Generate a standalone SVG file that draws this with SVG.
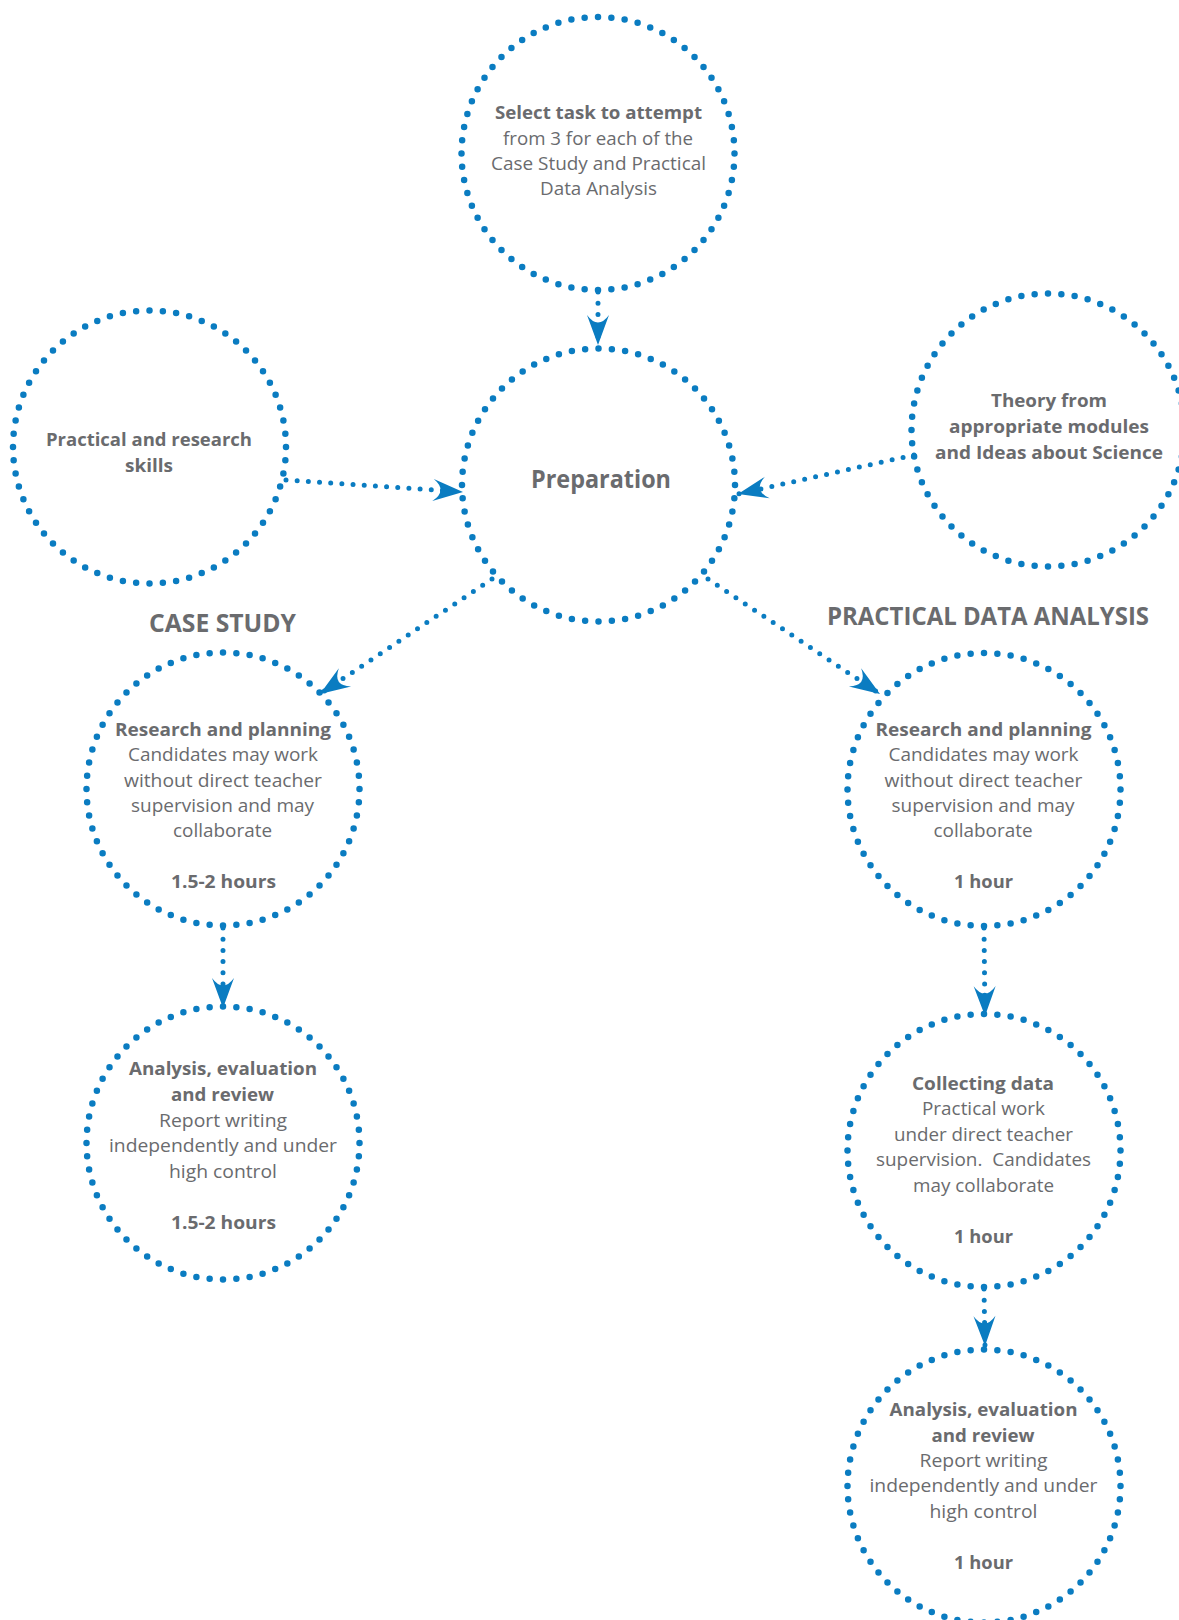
<svg xmlns="http://www.w3.org/2000/svg" width="1179" height="1620" viewBox="0 0 1179 1620">
  <style>
    .ring { fill: none; stroke: #0a7cc1; stroke-width: 6.5; stroke-linecap: round; stroke-dasharray: 0 1; }
    .link { fill: none; stroke: #0a7cc1; stroke-width: 5; stroke-linecap: round; stroke-dasharray: 0 11.2; }
    text { font-family: "Open Sans", "Noto Sans", "Liberation Sans", sans-serif; fill: #6a6b6e; text-anchor: middle; }
    .b { font-weight: 700; font-size: 18.5px; }
    .r { font-weight: 400; font-size: 18.5px; }
    .h { font-weight: 700; font-size: 25px; }
    .pre { white-space: pre; }
  </style>
  <defs>
    <marker id="head" markerUnits="userSpaceOnUse" viewBox="-32 -13 34 26" refX="0" refY="0" markerWidth="34" markerHeight="26" orient="auto">
      <path d="M0,0 L-30,-11 Q-15,0 -30,11 Z" fill="#0a7cc1"/>
    </marker>
  </defs>

  <rect width="1179" height="1620" fill="#ffffff"/>

  <!-- section headings -->
  <text class="h" x="222.5" y="632" textLength="147" lengthAdjust="spacingAndGlyphs">CASE STUDY</text>
  <text class="h" x="988" y="625" textLength="322" lengthAdjust="spacingAndGlyphs">PRACTICAL DATA ANALYSIS</text>

  <!-- connectors -->
  <g id="connectors">
    <line class="link" x1="598" y1="292" x2="598" y2="345" marker-end="url(#head)"/>
    <line class="link" x1="286" y1="480" x2="463" y2="492" marker-end="url(#head)"/>
    <line class="link" x1="914" y1="455" x2="738" y2="494" marker-end="url(#head)"/>
    <line class="link" x1="492" y1="579" x2="320" y2="694" marker-end="url(#head)"/>
    <line class="link" x1="708" y1="579" x2="880" y2="694" marker-end="url(#head)"/>
    <line class="link" x1="223" y1="928" x2="223" y2="1008" marker-end="url(#head)"/>
    <line class="link" x1="984" y1="928" x2="985" y2="1016" marker-end="url(#head)"/>
    <line class="link" x1="984" y1="1289" x2="985" y2="1346" marker-end="url(#head)"/>
  </g>

  <!-- task selection -->
  <g id="select-task">
    <circle class="ring" cx="598" cy="153.5" r="136.5" pathLength="64"/>
    <text class="b" x="598.5" y="119" textLength="207" lengthAdjust="spacingAndGlyphs">Select task to attempt</text>
    <text class="r" x="598" y="144.5" textLength="190" lengthAdjust="spacingAndGlyphs">from 3 for each of the</text>
    <text class="r" x="598.5" y="170" textLength="215" lengthAdjust="spacingAndGlyphs">Case Study and Practical</text>
    <text class="r" x="598.5" y="195" textLength="117" lengthAdjust="spacingAndGlyphs">Data Analysis</text>
  </g>

  <!-- skills input -->
  <g id="skills">
    <circle class="ring" cx="149.5" cy="447" r="136.5" pathLength="64"/>
    <text class="b" x="149" y="446" textLength="206" lengthAdjust="spacingAndGlyphs">Practical and research</text>
    <text class="b" x="149" y="472" textLength="48" lengthAdjust="spacingAndGlyphs">skills</text>
  </g>

  <!-- preparation hub -->
  <g id="preparation">
    <circle class="ring" cx="598.5" cy="485" r="136.5" pathLength="64"/>
    <text class="h" x="601" y="488" textLength="140" lengthAdjust="spacingAndGlyphs">Preparation</text>
  </g>

  <!-- theory input -->
  <g id="theory">
    <circle class="ring" cx="1048" cy="430" r="136.5" pathLength="64"/>
    <text class="b" x="1049" y="407" textLength="116" lengthAdjust="spacingAndGlyphs">Theory from</text>
    <text class="b" x="1049" y="433" textLength="200" lengthAdjust="spacingAndGlyphs">appropriate modules</text>
    <text class="b" x="1049" y="459" textLength="228" lengthAdjust="spacingAndGlyphs">and Ideas about Science</text>
  </g>

  <!-- case study: research and planning -->
  <g id="cs-research">
    <circle class="ring" cx="223" cy="789" r="136.5" pathLength="64"/>
    <text class="b" x="223" y="736" textLength="216" lengthAdjust="spacingAndGlyphs">Research and planning</text>
    <text class="r" x="223" y="761" textLength="190" lengthAdjust="spacingAndGlyphs">Candidates may work</text>
    <text class="r" x="223" y="786.5" textLength="198" lengthAdjust="spacingAndGlyphs">without direct teacher</text>
    <text class="r" x="222.5" y="812" textLength="183" lengthAdjust="spacingAndGlyphs">supervision and may</text>
    <text class="r" x="222.5" y="837" textLength="99" lengthAdjust="spacingAndGlyphs">collaborate</text>
    <text class="b" x="223.5" y="888" textLength="105" lengthAdjust="spacingAndGlyphs">1.5-2 hours</text>
  </g>

  <!-- case study: analysis -->
  <g id="cs-analysis">
    <circle class="ring" cx="223" cy="1143" r="136.5" pathLength="64"/>
    <text class="b" x="223" y="1075" textLength="188" lengthAdjust="spacingAndGlyphs">Analysis, evaluation</text>
    <text class="b" x="222.5" y="1101" textLength="103" lengthAdjust="spacingAndGlyphs">and review</text>
    <text class="r" x="223" y="1127" textLength="128" lengthAdjust="spacingAndGlyphs">Report writing</text>
    <text class="r" x="223" y="1152" textLength="228" lengthAdjust="spacingAndGlyphs">independently and under</text>
    <text class="r" x="223" y="1178" textLength="108" lengthAdjust="spacingAndGlyphs">high control</text>
    <text class="b" x="223.5" y="1229" textLength="105" lengthAdjust="spacingAndGlyphs">1.5-2 hours</text>
  </g>

  <!-- practical data analysis: research and planning -->
  <g id="pda-research">
    <circle class="ring" cx="984" cy="789.5" r="136.5" pathLength="64"/>
    <text class="b" x="983.5" y="736" textLength="216" lengthAdjust="spacingAndGlyphs">Research and planning</text>
    <text class="r" x="983.5" y="761" textLength="190" lengthAdjust="spacingAndGlyphs">Candidates may work</text>
    <text class="r" x="983.5" y="786.5" textLength="198" lengthAdjust="spacingAndGlyphs">without direct teacher</text>
    <text class="r" x="983" y="812" textLength="183" lengthAdjust="spacingAndGlyphs">supervision and may</text>
    <text class="r" x="983" y="837" textLength="99" lengthAdjust="spacingAndGlyphs">collaborate</text>
    <text class="b" x="983.5" y="888" textLength="59" lengthAdjust="spacingAndGlyphs">1 hour</text>
  </g>

  <!-- practical data analysis: collecting data -->
  <g id="pda-collecting">
    <circle class="ring" cx="984" cy="1150.5" r="136.5" pathLength="64"/>
    <text class="b" x="983" y="1090" textLength="142" lengthAdjust="spacingAndGlyphs">Collecting data</text>
    <text class="r" x="983.5" y="1115" textLength="123" lengthAdjust="spacingAndGlyphs">Practical work</text>
    <text class="r" x="983.5" y="1141" textLength="179" lengthAdjust="spacingAndGlyphs">under direct teacher</text>
    <text class="r pre" x="983.5" y="1166" textLength="215" lengthAdjust="spacingAndGlyphs">supervision.  Candidates</text>
    <text class="r" x="983.5" y="1192" textLength="141" lengthAdjust="spacingAndGlyphs">may collaborate</text>
    <text class="b" x="983.5" y="1243" textLength="59" lengthAdjust="spacingAndGlyphs">1 hour</text>
  </g>

  <!-- practical data analysis: analysis -->
  <g id="pda-analysis">
    <circle class="ring" cx="984" cy="1486" r="136.5" pathLength="64"/>
    <text class="b" x="983.5" y="1416" textLength="188" lengthAdjust="spacingAndGlyphs">Analysis, evaluation</text>
    <text class="b" x="983" y="1442" textLength="103" lengthAdjust="spacingAndGlyphs">and review</text>
    <text class="r" x="983.5" y="1467" textLength="128" lengthAdjust="spacingAndGlyphs">Report writing</text>
    <text class="r" x="983.5" y="1492" textLength="228" lengthAdjust="spacingAndGlyphs">independently and under</text>
    <text class="r" x="983.5" y="1518" textLength="108" lengthAdjust="spacingAndGlyphs">high control</text>
    <text class="b" x="983.5" y="1569" textLength="59" lengthAdjust="spacingAndGlyphs">1 hour</text>
  </g>
</svg>
